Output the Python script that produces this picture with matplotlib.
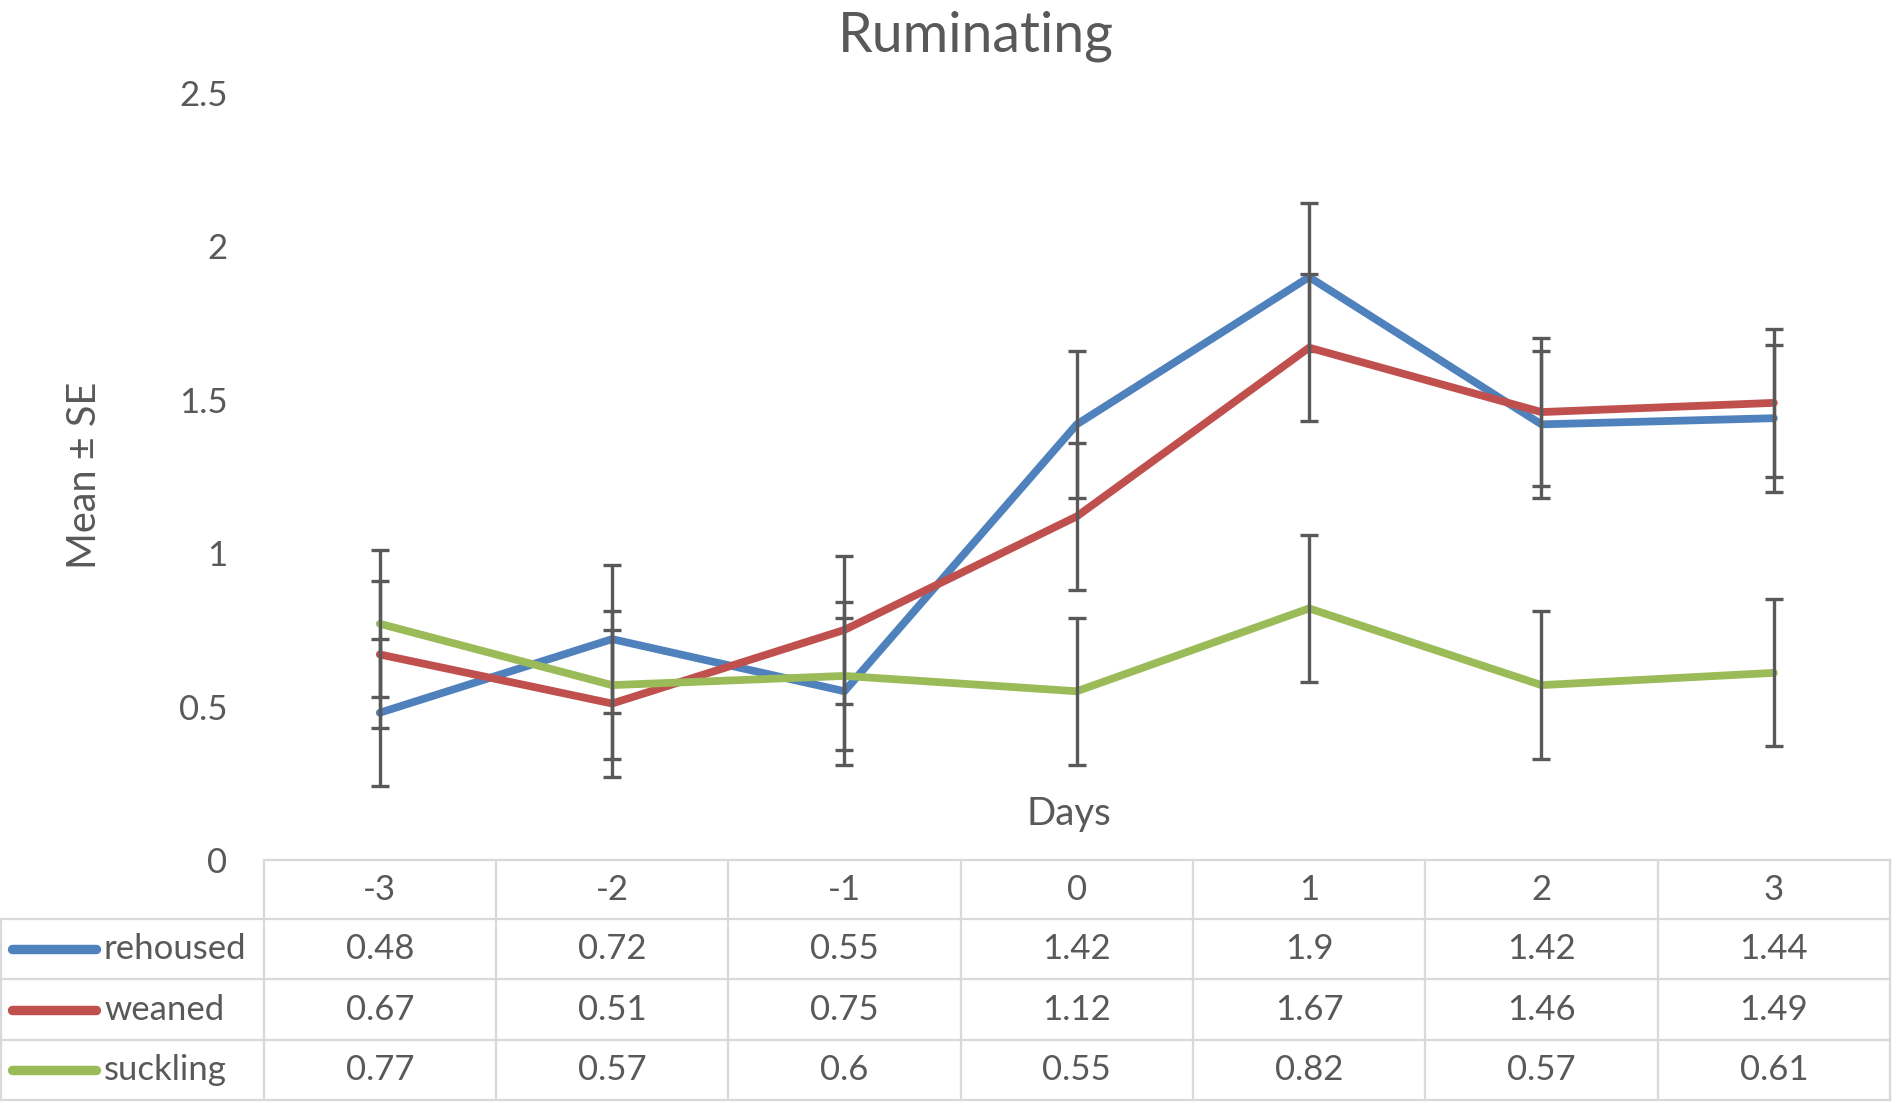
import numpy as np
import matplotlib
matplotlib.use("Agg")
import matplotlib.pyplot as plt
import matplotlib.transforms as mtransforms
from matplotlib.lines import Line2D

plt.rcParams['font.family'] = ['Lato', 'DejaVu Sans']

# data
days = [-3, -2, -1, 0, 1, 2, 3]
series_names = ['rehoused', 'weaned', 'suckling']
rehoused = [0.48, 0.72, 0.55, 1.42, 1.9, 1.42, 1.44]
weaned = [0.67, 0.51, 0.75, 1.12, 1.67, 1.46, 1.49]
suckling = [0.77, 0.57, 0.6, 0.55, 0.82, 0.57, 0.61]
rehoused_se = [0.24, 0.24, 0.24, 0.24, 0.24, 0.24, 0.24]
weaned_se = [0.24, 0.24, 0.24, 0.24, 0.24, 0.24, 0.24]
suckling_se = [0.24, 0.24, 0.24, 0.24, 0.24, 0.24, 0.24]
yticks = [0, 0.5, 1, 1.5, 2, 2.5]

colors = ['#4F81BD', '#C0504D', '#9BBB59']
txt = '#595959'
grid_c = '#D9D9D9'

W, H = 1896, 1104
fig = plt.figure(figsize=(W / 200, H / 200), dpi=200)
ax = fig.add_axes([263.6 / W, 1 - 860 / H, (1890 - 263.6) / W, (860 - 93) / H])

values = [rehoused, weaned, suckling]
errs = [rehoused_se, weaned_se, suckling_se]
for i, (vals, se, c) in enumerate(zip(values, errs, colors)):
    ax.plot(days, vals, color=c, lw=2.8, solid_capstyle='round', zorder=2 + i)
    ax.errorbar(days, vals, yerr=se, fmt='none', ecolor='#595959',
                elinewidth=1.2, capsize=3.4, capthick=1.2, zorder=2 + i)

ax.set_xlim(days[0] - 0.5, days[-1] + 0.5)
ax.set_ylim(0, 2.5)
ax.set_yticks(yticks)
ax.set_yticklabels([f'{v:g}' for v in yticks])
ax.set_xticks([])
ax.tick_params(axis='y', length=0, pad=13, labelsize=12.5, labelcolor=txt)
for s in ax.spines.values():
    s.set_visible(False)

fig.text(976 / W, 1 - 52 / H, 'Ruminating', ha='center', va='baseline',
         fontsize=20, color=txt)
fig.text(85 / W, 1 - 475 / H, 'Mean ± SE', rotation=90, ha='center',
         va='center', fontsize=14.3, color=txt)
fig.text(1069 / W, 1 - 814 / H, 'Days', ha='center', va='center',
         fontsize=13.8, color=txt)

# data table below the plot
row_y = [1 - 860 / H, 1 - 919 / H, 1 - 979 / H, 1 - 1040 / H, 1 - 1100 / H]
blend = mtransforms.blended_transform_factory(ax.transData, fig.transFigure)
lw_tab = 0.8
# header top line
fig.add_artist(Line2D([263.6 / W, 1890 / W], [row_y[0], row_y[0]],
                      transform=fig.transFigure, color=grid_c, lw=lw_tab))
for yy in row_y[1:]:
    fig.add_artist(Line2D([1 / W, 1890 / W], [yy, yy],
                          transform=fig.transFigure, color=grid_c, lw=lw_tab))
edges = [d - 0.5 for d in days] + [days[-1] + 0.5]
for e in edges:
    fig.add_artist(Line2D([e, e], [row_y[0], row_y[-1]], transform=blend,
                          color=grid_c, lw=lw_tab))
fig.add_artist(Line2D([1 / W, 1 / W], [row_y[1], row_y[-1]],
                      transform=fig.transFigure, color=grid_c, lw=lw_tab))

for d in days:
    ax.text(d, (row_y[0] + row_y[1]) / 2, f'{d}', transform=blend,
            ha='center', va='center', fontsize=12.5, color=txt)
for r, (name, vals, c) in enumerate(zip(series_names, values, colors)):
    yc = (row_y[r + 1] + row_y[r + 2]) / 2
    fig.add_artist(Line2D([12 / W, 96 / W], [yc, yc], transform=fig.transFigure,
                          color=c, lw=3.4, solid_capstyle='round'))
    fig.text(104 / W, yc, name, ha='left', va='center', fontsize=12.5, color=txt)
    for d, v in zip(days, vals):
        ax.text(d, yc, f'{v:g}', transform=blend, ha='center', va='center',
                fontsize=12.5, color=txt)

fig.savefig('out.png', dpi=200)
